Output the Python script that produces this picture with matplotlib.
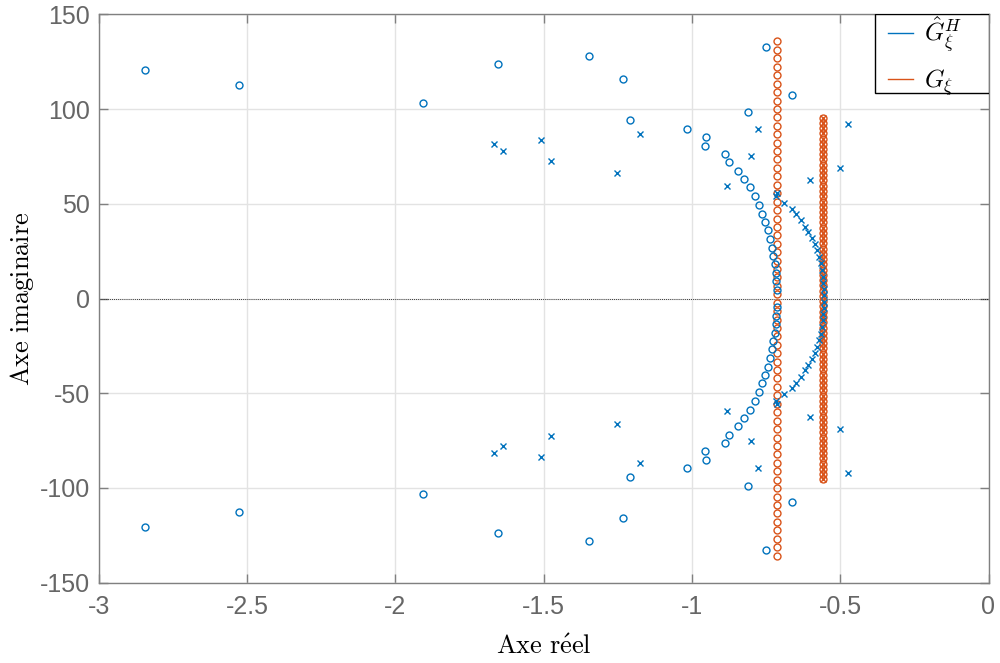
import numpy as np
import matplotlib
matplotlib.use("Agg")
import matplotlib.pyplot as plt
from matplotlib.lines import Line2D
from matplotlib.patches import Rectangle

plt.rcParams["mathtext.fontset"] = "cm"
plt.rcParams["axes.unicode_minus"] = False

# COLOURS (MATLAB default order)
blue = "#0072BD"
orange = "#D95319"
gray = "#666666"

# ---------------- DATA (upper half, conjugates are mirrored) ----------------
# G_hat^H : isolated zeros (real, imag)
gh_zero_re = [-2.844, -2.526, -1.907, -1.654, -1.347, -1.232, -1.209, -1.017,
              -0.953, -0.956, -0.750, -0.663, -0.811]
gh_zero_im = [120.6, 112.7, 103.0, 123.8, 128.0, 116.0, 94.2, 89.7,
              85.0, 80.7, 132.5, 107.4, 98.7]
# G_hat^H : zeros on the arc
gh_arc_zero_re = [-0.888, -0.875, -0.845, -0.824, -0.804, -0.787, -0.773, -0.763,
                  -0.753, -0.743, -0.736, -0.730, -0.727, -0.720, -0.717, -0.716, -0.713]
gh_arc_zero_im = [76.5, 71.9, 67.5, 63.0, 58.6, 53.9, 49.5, 44.7,
                  40.5, 35.9, 31.5, 26.8, 22.4, 18.1, 13.5, 9.1, 4.7]
# G_hat^H : isolated poles
gh_pole_re = [-1.667, -1.637, -1.509, -1.475, -1.253, -1.175, -0.777, -0.801,
              -0.882, -0.602, -0.501, -0.474]
gh_pole_im = [81.5, 78.0, 83.6, 72.5, 66.2, 86.8, 89.7, 75.0,
              59.6, 62.5, 68.9, 92.3]
# G_hat^H : poles on the arc
gh_arc_pole_re = [-0.715, -0.712, -0.690, -0.663, -0.649, -0.632, -0.619, -0.609,
                  -0.595, -0.585, -0.578, -0.572, -0.565, -0.561, -0.558, -0.557,
                  -0.556, -0.556]
gh_arc_pole_im = [54.0, 55.6, 50.4, 47.2, 44.6, 41.4, 37.7, 35.1,
                  31.9, 28.8, 25.6, 21.9, 18.7, 15.0, 11.3, 8.2, 4.9, 1.6]

# G : zeros column at -0.713
g_zero_col_re = -0.713
g_zero_col_im = [2.2, 6.6, 11.1, 15.5, 20.0, 24.4, 28.9, 33.3, 37.8, 42.2,
                 46.7, 51.1, 55.6, 60.0, 64.5, 68.9, 73.4, 77.8, 82.3, 86.7,
                 91.2, 95.6, 100.1, 104.5, 109.0, 113.4, 117.9, 122.3, 126.8,
                 131.2, 135.7]
# G : poles and zeros column at -0.558
g_pz_col_re = -0.558
g_pz_col_im = [1.4, 4.2, 7.0, 9.7, 12.5, 15.3, 18.0, 20.8, 23.6, 26.3,
               29.1, 31.9, 34.6, 37.4, 40.2, 42.9, 45.7, 48.5, 51.2, 54.0,
               56.8, 59.5, 62.3, 65.1, 67.8, 70.6, 73.4, 76.1, 78.9, 81.7,
               84.4, 87.2, 90.0, 92.7, 95.5]

xticks = [-3, -2.5, -2, -1.5, -1, -0.5, 0]
xticklabels = ["-3", "-2.5", "-2", "-1.5", "-1", "-0.5", "0"]
yticks = [-150, -100, -50, 0, 50, 100, 150]


def mirror(re, im):
    re = np.asarray(re, dtype=float)
    im = np.asarray(im, dtype=float)
    return np.concatenate([re, re]), np.concatenate([im, -im])


# ---------------- PLOT ----------------
fig = plt.figure(figsize=(10, 6.63), dpi=100)
ax = fig.add_axes([0.0987, 0.1211, 0.8898, 0.8573])

ms = 5
mew = 1.0
ax.axhline(0, color="black", lw=0.6, ls=(0, (1, 1.5)), zorder=1)

# G (orange)
n1 = len(g_zero_col_im)
zr, zi = mirror([g_zero_col_re] * n1, g_zero_col_im)
ax.plot(zr, zi, "o", mfc="none", mec=orange, ms=ms, mew=mew, ls="none", zorder=3)
n2 = len(g_pz_col_im)
pr, pi = mirror([g_pz_col_re] * n2, g_pz_col_im)
ax.plot(pr, pi, "o", mfc="none", mec=orange, ms=ms, mew=mew, ls="none", zorder=3)
ax.plot(pr, pi, "x", color=orange, ms=ms, mew=mew, ls="none", zorder=3)

# G_hat^H (blue)
for re, im in [(gh_zero_re, gh_zero_im), (gh_arc_zero_re, gh_arc_zero_im)]:
    r, i = mirror(re, im)
    ax.plot(r, i, "o", mfc="none", mec=blue, ms=ms, mew=mew, ls="none", zorder=4)
for re, im in [(gh_pole_re, gh_pole_im), (gh_arc_pole_re, gh_arc_pole_im)]:
    r, i = mirror(re, im)
    ax.plot(r, i, "x", color=blue, ms=ms, mew=mew, ls="none", zorder=4)

ax.set_xlim(-3, 0)
ax.set_ylim(-150, 150)
ax.set_xticks(xticks)
ax.set_xticklabels(xticklabels)
ax.set_yticks(yticks)
ax.set_yticklabels([str(v) for v in yticks])

ax.grid(True, color="#e3e3e3", lw=1.0)
ax.set_axisbelow(True)
for sp in ax.spines.values():
    sp.set_color("#808080")
    sp.set_linewidth(1.0)
ax.tick_params(direction="in", length=6.5, width=1.0, color="#808080",
               top=True, right=True, labelcolor=gray, labelsize=18)
ax.tick_params(axis="x", pad=9)
ax.tick_params(axis="y", pad=6)
for lab in ax.get_xticklabels() + ax.get_yticklabels():
    lab.set_fontfamily("Liberation Sans")

ax.set_xlabel(r"$\mathrm{Axe\ r\acute{e}el}$", fontsize=19, labelpad=11)
ax.set_ylabel(r"$\mathrm{Axe\ imaginaire}$", fontsize=19, labelpad=3)

# legend: white box with black edge, entries placed inside it
ax.add_patch(Rectangle((0.8725, 0.862), 0.1275, 0.138, transform=ax.transAxes,
                       facecolor="white", edgecolor="black", lw=1.0, zorder=10))
handles = [Line2D([], [], color=blue, lw=1.0), Line2D([], [], color=orange, lw=1.0)]
leg = ax.legend(handles, [r"$\hat{G}_{\xi}^{H}$", r"$G_{\xi}$"],
                loc="upper left", bbox_to_anchor=(0.887, 1.0), fontsize=18,
                frameon=False, handlelength=1.0, handletextpad=0.45,
                borderpad=0.0, labelspacing=0.52, borderaxespad=0.0)
leg.set_zorder(11)

fig.savefig("out.png", dpi=100)
